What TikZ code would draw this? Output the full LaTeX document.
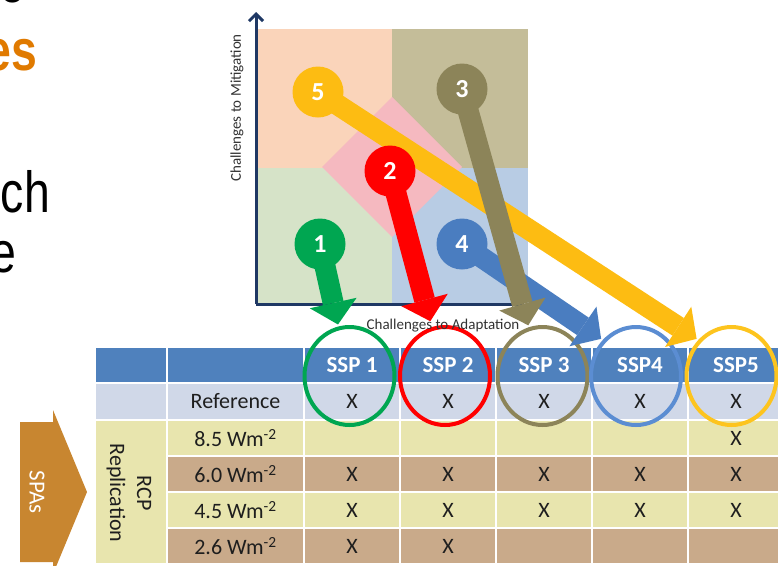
\documentclass[tikz,border=0pt]{standalone}
\usepackage{fontspec}
\setmainfont{Carlito}
\newfontfamily\arialfont{Liberation Sans}
\usetikzlibrary{arrows.meta,shapes.geometric}

\definecolor{hdrblue}{RGB}{79,129,189}
\definecolor{refrow}{RGB}{208,216,232}
\definecolor{yelrow}{RGB}{232,229,174}
\definecolor{tanrow}{RGB}{201,170,138}
\definecolor{spabrown}{RGB}{200,134,48}
\definecolor{qpeach}{RGB}{250,212,186}
\definecolor{qkhaki}{RGB}{196,189,153}
\definecolor{qgreen}{RGB}{214,227,200}
\definecolor{qblue}{RGB}{184,204,228}
\definecolor{qpink}{RGB}{245,185,192}
\definecolor{axisnavy}{RGB}{31,56,100}
\definecolor{sgreen}{RGB}{0,166,81}
\definecolor{sred}{RGB}{255,0,0}
\definecolor{skhaki}{RGB}{140,132,89}
\definecolor{sblue}{RGB}{74,125,192}
\definecolor{syellow}{RGB}{253,188,18}
\definecolor{ringblue}{RGB}{91,141,210}
\definecolor{ringyellow}{RGB}{253,196,30}
\definecolor{orangetxt}{RGB}{224,122,0}
\definecolor{txtdark}{RGB}{30,30,30}

\begin{document}
\begin{tikzpicture}[x=1pt,y=-1pt,
  cell/.style={rectangle, draw=white, line width=2pt, inner sep=0pt, text=txtdark,
    font=\fontsize{22}{26}\selectfont},
  marker/.style={circle, fill=#1, text=white, inner sep=0pt, minimum size=51pt,
    font=\bfseries\fontsize{26}{26}\selectfont},
  ring/.style={ellipse, draw=#1, line width=4pt, inner sep=0pt,
    minimum width=90pt, minimum height=98pt},
  sarrow/.style={draw=#1, line width=21pt,
    -{Triangle[length=22pt,width=48pt,line width=0pt]},
    shorten <=-6pt, shorten >=2pt},
  axisline/.style={draw=axisnavy, line width=3pt},
  axlabel/.style={inner sep=0pt, text=black!80, font=\fontsize{15}{17}\selectfont},
  frag/.style={anchor=base east, inner sep=0pt, xscale=0.8,
    font=\arialfont\fontsize{58}{60}\selectfont},
]
\useasboundingbox (0,0) rectangle (778,565);
\clip (0,0) rectangle (778,565);
\fill[white] (0,0) rectangle (778,565);

% left slide text fragments
\node[frag, text=black] (fragA) at (25,2) {e};
\node[frag, text=orangetxt, font=\arialfont\bfseries\fontsize{58}{60}\selectfont] (fragB) at (37,70) {es};
\node[frag, text=black] (fragC) at (50,212) {ch};
\node[frag, text=black] (fragD) at (16,272) {e};

% ---------- table ----------
\node[cell, fill=hdrblue, minimum width=72pt, minimum height=36pt] (hd-a) at (131,365) {};
\node[cell, fill=hdrblue, minimum width=137pt, minimum height=36pt] (hd-b) at (235.5,365) {};
\foreach \i/\x/\t in {1/352/SSP 1,2/448/SSP 2,3/544/SSP 3,4/640/SSP4,5/736/SSP5}
  \node[cell, fill=hdrblue, text=white, font=\bfseries\fontsize{23}{26}\selectfont,
    minimum width=96pt, minimum height=36pt] (hd-\i) at (\x,365) {\t};

\node[cell, fill=refrow, minimum width=72pt, minimum height=37pt] (rf-a) at (131,401.5) {};
\node[cell, fill=refrow, minimum width=137pt, minimum height=37pt] (rf-b) at (235.5,401.5) {Reference};
\foreach \i/\x in {1/352,2/448,3/544,4/640,5/736}
  \node[cell, fill=refrow, minimum width=96pt, minimum height=37pt] (rf-\i) at (\x,401.5) {X};

\node[cell, fill=yelrow, minimum width=72pt, minimum height=144pt] (rcp) at (131,492) {};
\node[rotate=-90, align=center, inner sep=0pt, text=txtdark,
  font=\fontsize{22}{27}\selectfont] (rcplab) at (129,493) {RCP\\Replication};

\foreach \r/\y/\f/\lab/\ta/\tb/\tc/\td/\te in {
  a/438/yelrow/8.5/{}/{}/{}/{}/X,
  b/474/tanrow/6.0/X/X/X/X/X,
  c/510/yelrow/4.5/X/X/X/X/X,
  d/546/tanrow/2.6/X/X/{}/{}/{}}
{
  \node[cell, fill=\f, minimum width=137pt, minimum height=36pt] (bd-\r) at (235.5,\y) {\lab\ Wm\textsuperscript{-2}};
  \node[cell, fill=\f, minimum width=96pt, minimum height=36pt] (bd-\r-1) at (352,\y) {\ta};
  \node[cell, fill=\f, minimum width=96pt, minimum height=36pt] (bd-\r-2) at (448,\y) {\tb};
  \node[cell, fill=\f, minimum width=96pt, minimum height=36pt] (bd-\r-3) at (544,\y) {\tc};
  \node[cell, fill=\f, minimum width=96pt, minimum height=36pt] (bd-\r-4) at (640,\y) {\td};
  \node[cell, fill=\f, minimum width=96pt, minimum height=36pt] (bd-\r-5) at (736,\y) {\te};
}

% SPAs arrow
\fill[spabrown] (20,422) -- (53,422) -- (53,410) -- (87,492) -- (53,574) -- (53,562) -- (20,562) -- cycle;
\node[rotate=-90, inner sep=0pt, text=white, font=\fontsize{23}{26}\selectfont] (spas) at (37,492) {SPAs};

% rings
\node[ring=sgreen]  (r1) at (349.5,376) {};
\node[ring=sred]    (r2) at (445,376) {};
\node[ring=skhaki]  (r3) at (542.5,376) {};
\node[ring=ringblue] (r4) at (636,376) {};
\node[ring=ringyellow] (r5) at (731.5,376) {};

% ---------- quadrant chart ----------
\fill[qpeach] (258,29) rectangle (392,168);
\fill[qkhaki] (392,29) rectangle (528,168);
\fill[qgreen] (258,168) rectangle (392,303);
\fill[qblue]  (392,168) rectangle (528,303);
\fill[qpink] (392,97) -- (462,167) -- (392,237) -- (322,167) -- cycle;

\coordinate (origin) at (256,304);
\coordinate (ytop) at (256,12);
\coordinate (xend) at (524,304);
\draw[axisline, -{Straight Barb[length=7pt,width=14pt]}] (origin) -- (ytop);
\draw[axisline] (origin) -- (xend);

\node[axlabel, rotate=90] (ylab) at (237,108) {Challenges to Mitigation};
\node[axlabel] (xlab) at (443,326) {Challenges to Adaptation};

% markers and arrows
\node[marker=syellow] (m5) at (318,92) {5};
\draw[sarrow=syellow] (m5) -- (r5.north west);
\node[marker=sblue] (m4) at (462,244) {4};
\draw[sarrow=sblue] (m4) -- (r4.north west);
\node[marker=skhaki] (m3) at (462,89) {3};
\draw[sarrow=skhaki] (m3) -- (r3);
\node[marker=sred] (m2) at (390,171) {2};
\draw[sarrow=sred, shorten >=6pt] (m2) -- (r2);
\node[marker=sgreen] (m1) at (320,244) {1};
\draw[sarrow=sgreen] (m1) -- (r1);
\end{tikzpicture}
\end{document}
